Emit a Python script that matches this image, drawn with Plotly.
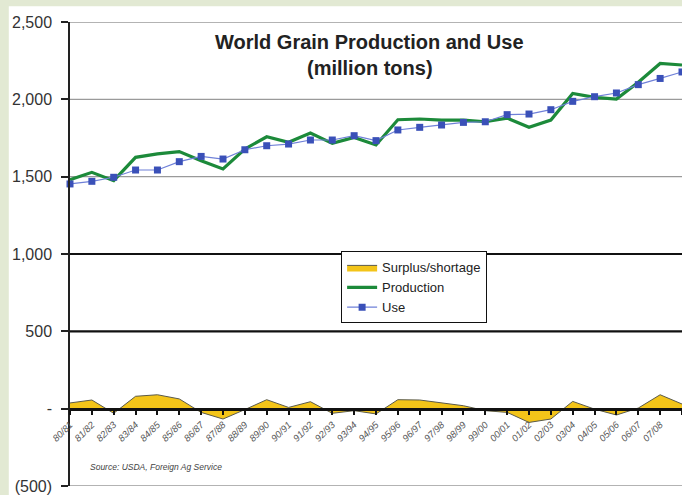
import plotly.graph_objects as go

# ---------------- data ----------------
years = ["80/81", "81/82", "82/83", "83/84", "84/85", "85/86", "86/87", "87/88",
         "88/89", "89/90", "90/91", "91/92", "92/93", "93/94", "94/95", "95/96",
         "96/97", "97/98", "98/99", "99/00", "00/01", "01/02", "02/03", "03/04",
         "04/05", "05/06", "06/07", "07/08", "08/09"]

production = [1480, 1528, 1474, 1625, 1647, 1662, 1603, 1550, 1679, 1758,
              1722, 1782, 1715, 1754, 1705, 1868, 1873, 1866, 1866, 1855,
              1879, 1819, 1866, 2038, 2013, 2002, 2110, 2232, 2222]

use = [1453, 1470, 1496, 1543, 1543, 1597, 1631, 1614, 1674, 1700,
       1711, 1737, 1737, 1765, 1733, 1802, 1819, 1834, 1851, 1855,
       1901, 1905, 1933, 1987, 2017, 2041, 2095, 2135, 2177]

surplus = [37, 56, -30, 80, 90, 63, -24, -67, -6, 58,
           8, 45, -30, -13, -34, 58, 56, 37, 19, -13,
           -24, -89, -67, 47, -3, -41, 4, 90, 30]

y_tickvals = [2500, 2000, 1500, 1000, 500, 0, -500]
y_ticktext = ["2,500", "2,000", "1,500", "1,000", "500", "-", "(500)"]

grid_gray = [2500, 2000, 1500, -500]
grid_black = [1000, 500]

xs = list(range(len(years)))

fig = go.Figure()

fig.add_trace(go.Scatter(
    x=xs, y=surplus, name="Surplus/shortage", mode="lines",
    fill="tozeroy", fillcolor="#F3C419",
    line=dict(color="#5a5a4a", width=1)))

fig.add_trace(go.Scatter(
    x=xs, y=production, name="Production", mode="lines",
    line=dict(color="#1C8A3A", width=3.2)))

fig.add_trace(go.Scatter(
    x=xs, y=use, name="Use", mode="lines+markers",
    line=dict(color="#6F80D8", width=1.2),
    marker=dict(symbol="square", size=7, color="#3A50B8"),
    cliponaxis=False))

shapes = []
# panel background (white card over tinted page)
shapes.append(dict(type="rect", xref="paper", yref="paper",
                   x0=-0.1, x1=1.05, y0=-0.05, y1=1.034,
                   fillcolor="white", line=dict(width=0), layer="below"))
for v in grid_gray:
    shapes.append(dict(type="line", xref="paper", yref="y", x0=0, x1=1,
                       y0=v, y1=v, line=dict(color="#9a9a9a", width=1.3),
                       layer="below"))
for v in grid_black:
    shapes.append(dict(type="line", xref="paper", yref="y", x0=0, x1=1,
                       y0=v, y1=v, line=dict(color="#111111", width=2.2),
                       layer="below"))

fig.update_layout(
    width=682, height=495,
    margin=dict(l=70, r=0, t=22, b=9),
    paper_bgcolor="#e2e9d3",
    plot_bgcolor="white",
    font=dict(family="Liberation Sans, Arial, sans-serif", color="#333333"),
    shapes=shapes,
    showlegend=True,
    legend=dict(x=0.443, y=0.5055, xanchor="left", yanchor="top",
                bgcolor="white", bordercolor="#111111", borderwidth=1,
                font=dict(size=13, color="#222222"), itemwidth=30,
                tracegroupgap=0),
    xaxis=dict(range=[0, 28], tickvals=xs, ticktext=years, tickangle=-45,
               anchor="free", position=500 / 3000,
               showgrid=False, zeroline=False, showline=True,
               linecolor="#111111", linewidth=2.5,
               ticks="outside", ticklen=5, tickwidth=1.5, tickcolor="#111111",
               tickfont=dict(size=9.5, color="#555555",
                             family="Liberation Sans, Arial, sans-serif", style="italic")),
    yaxis=dict(range=[-500, 2500], tickvals=y_tickvals, ticktext=y_ticktext,
               showgrid=False, zeroline=False, showline=True,
               linecolor="#222222", linewidth=1.5,
               ticks="outside", ticklen=7, tickwidth=1.5, tickcolor="#222222",
               ticklabelstandoff=6,
               tickfont=dict(size=16, color="#333333")),
    annotations=[
        dict(text="<b>World Grain Production and Use</b>", xref="paper", yref="paper",
             x=0.49, y=0.957, showarrow=False, xanchor="center", yanchor="middle",
             font=dict(size=20, color="#222222")),
        dict(text="<b>(million tons)</b>", xref="paper", yref="paper",
             x=0.49, y=0.901, showarrow=False, xanchor="center", yanchor="middle",
             font=dict(size=20, color="#222222")),
        dict(text="<i>Source: USDA, Foreign Ag Service</i>", xref="paper", yref="paper",
             x=0.029, y=0.041, showarrow=False, xanchor="left", yanchor="middle",
             font=dict(size=8.5, color="#444444")),
    ],
)

fig.write_html("out.html")
